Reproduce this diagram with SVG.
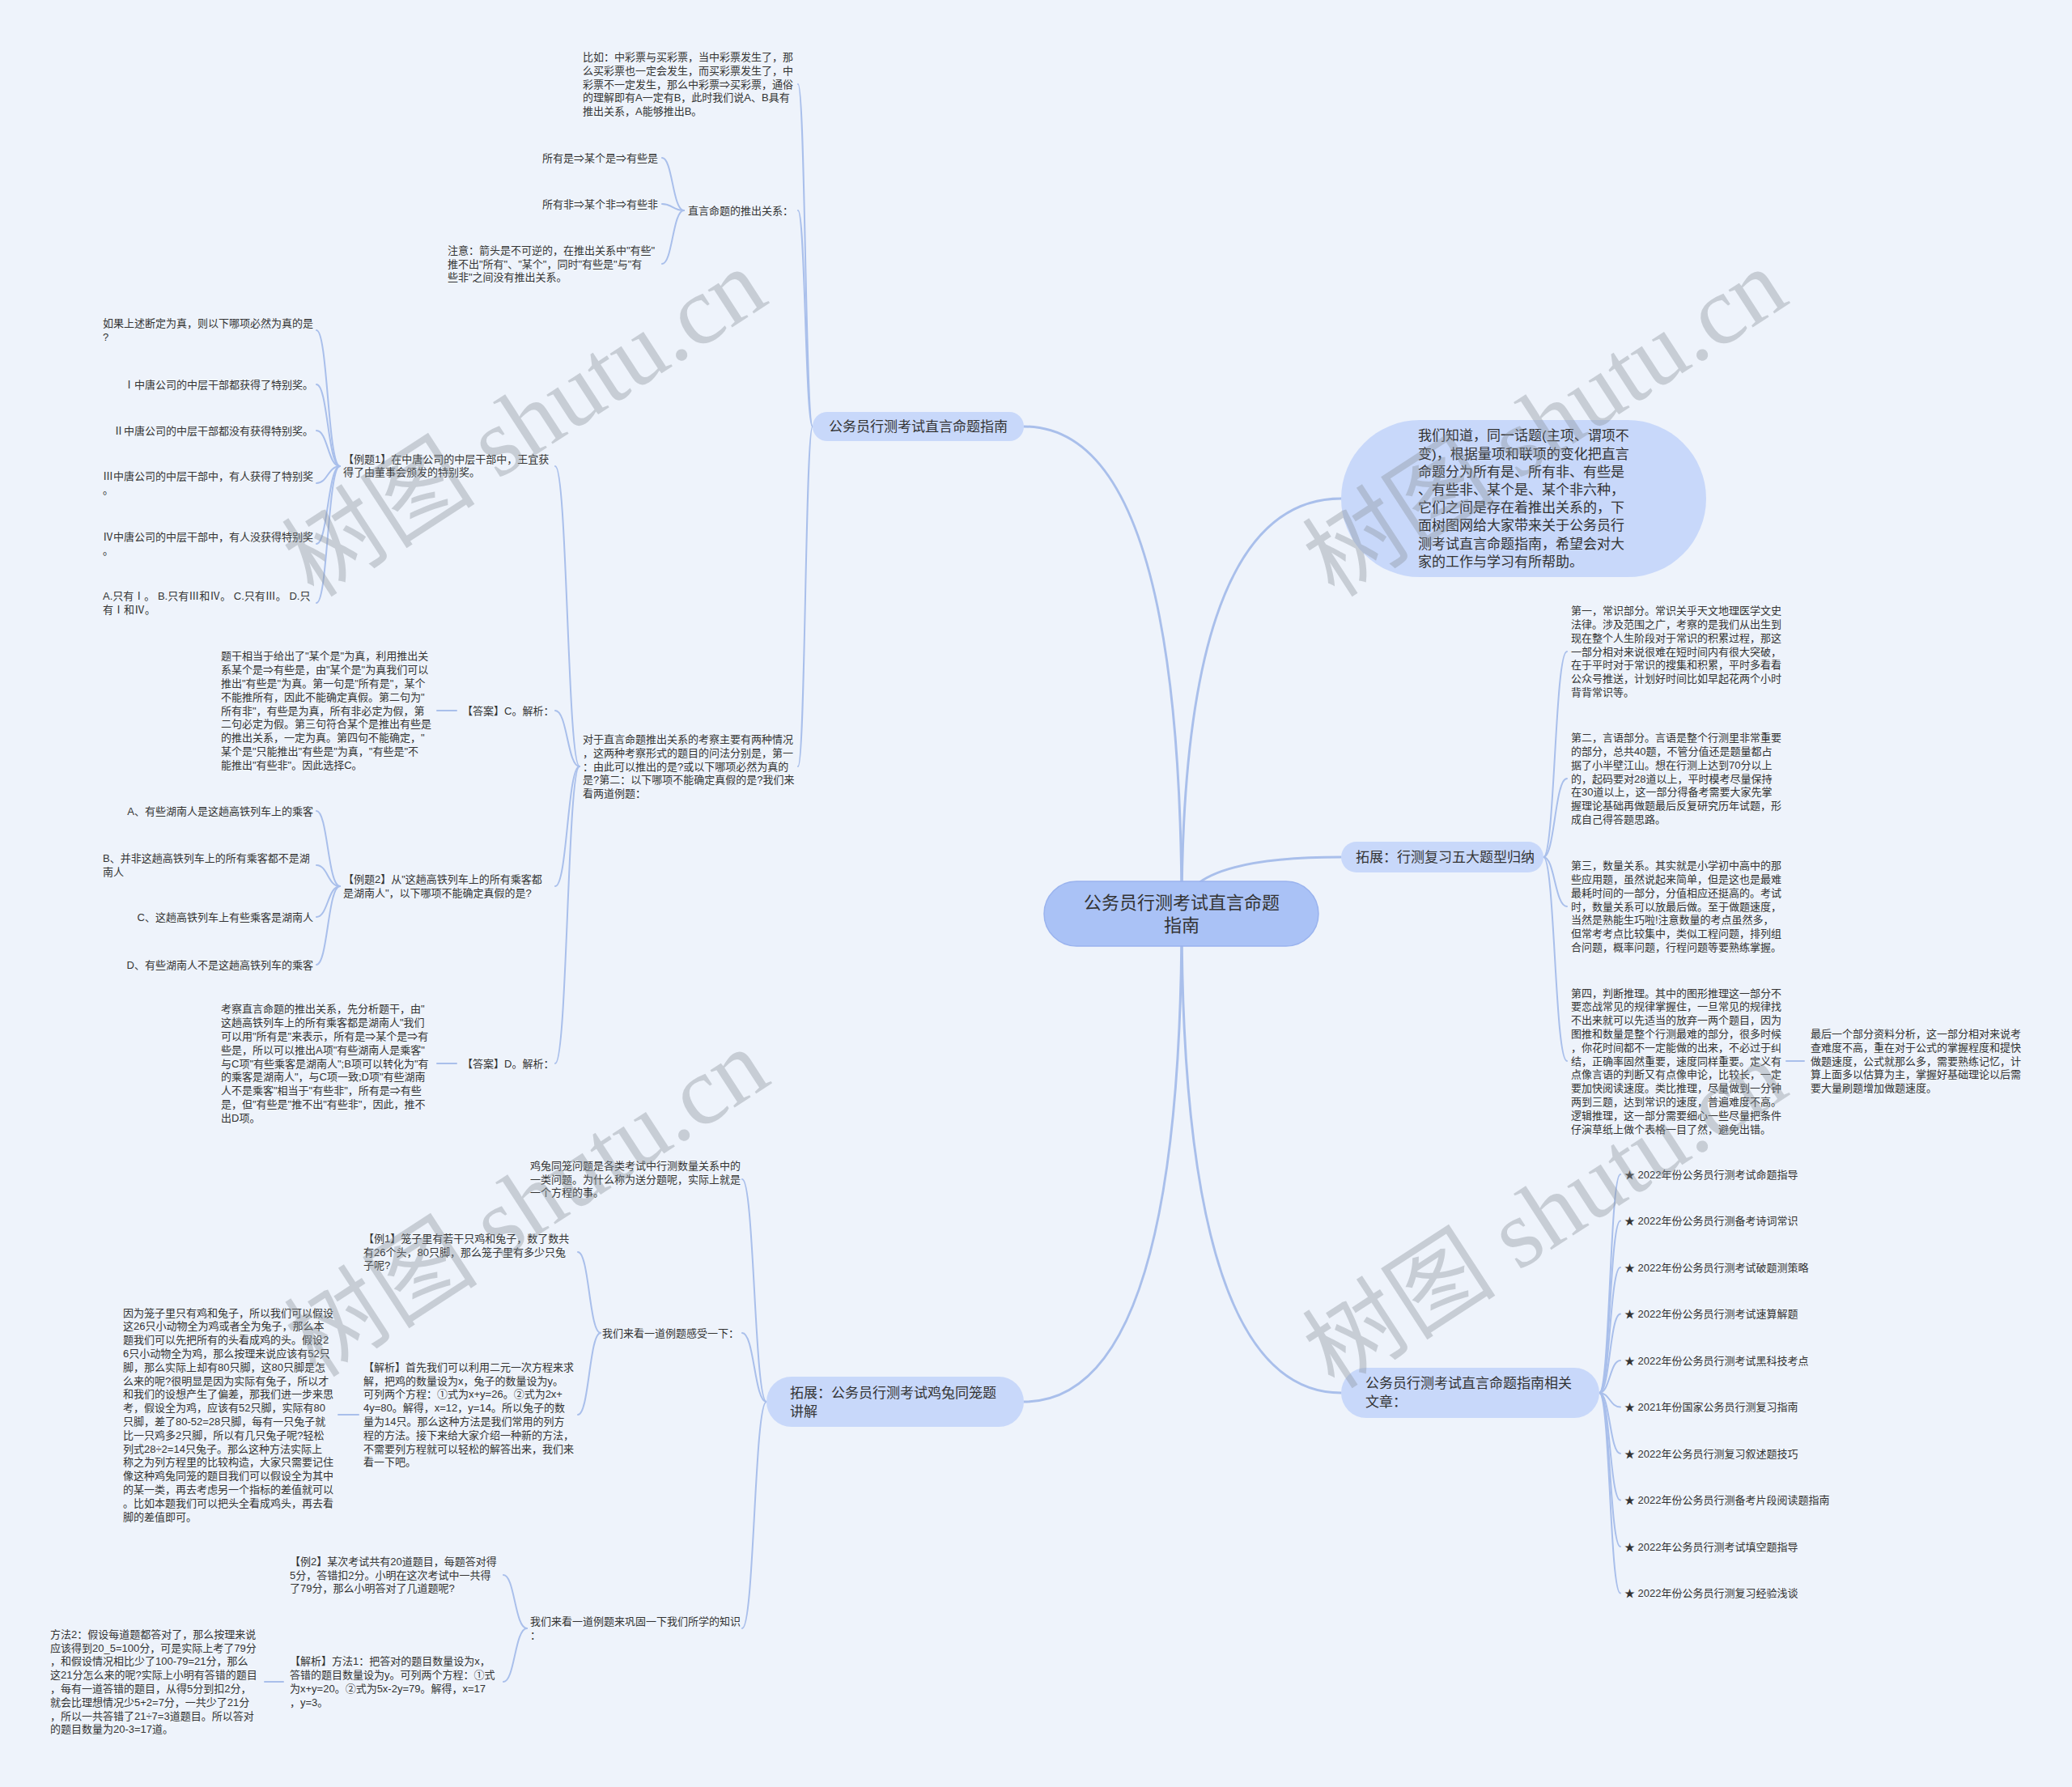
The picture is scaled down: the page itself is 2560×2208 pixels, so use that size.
<svg xmlns="http://www.w3.org/2000/svg" width="2560" height="2208" viewBox="0 0 2560 2208">
<style>
.t{font-family:"Liberation Sans","Noto Sans CJK SC",sans-serif;font-size:13px;fill:#333}
.m{font-size:17px}
.r{font-size:22px;text-anchor:middle}
.e{text-anchor:end}
.c{fill:none;stroke:#a9bfeb;stroke-width:2;stroke-linecap:round}
.c0{stroke-width:3}
.pill{fill:#c8d8fa}
.root{fill:#aac2f6;stroke:#9ab3ee;stroke-width:1.5}
.wm{font-family:"Liberation Serif","Noto Sans CJK SC",serif;font-size:120px;fill:#8a9099;fill-opacity:0.38}
</style>
<rect width="2560" height="2208" fill="#eef3fb"/>

<g id="connectors">
<path class="c c0" d="M1460 1129 Q1460 527 1265 527"/>
<path class="c c0" d="M1460 1129 Q1460 616 1657 616"/>
<path class="c c0" d="M1460 1129 Q1460 1059 1657 1059"/>
<path class="c c0" d="M1460 1129 Q1460 1721 1657 1721"/>
<path class="c c0" d="M1460 1129 Q1460 1732 1265 1732"/>
<path class="c" d="M1004 527 C995 527 995 104 986 104"/>
<path class="c" d="M1004 527 C995 527 995 260 986 260"/>
<path class="c" d="M1004 527 C995 527 995 947 986 947"/>
<path class="c" d="M845 260 C831 260 831 195 818 195"/>
<path class="c" d="M845 260 C831 260 831 252 818 252"/>
<path class="c" d="M845 260 C831 260 831 326 818 326"/>
<path class="c" d="M716 947 C701 947 701 576 686 576"/>
<path class="c" d="M716 947 C701 947 701 878 686 878"/>
<path class="c" d="M716 947 C701 947 701 1095 686 1095"/>
<path class="c" d="M716 947 C701 947 701 1314 686 1314"/>
<path class="c" d="M420 576 C405 576 405 408 391 408"/>
<path class="c" d="M420 576 C405 576 405 475 391 475"/>
<path class="c" d="M420 576 C405 576 405 532 391 532"/>
<path class="c" d="M420 576 C405 576 405 597 391 597"/>
<path class="c" d="M420 576 C405 576 405 672 391 672"/>
<path class="c" d="M420 576 C405 576 405 745 391 745"/>
<path class="c" d="M420 1095 C405 1095 405 1002 391 1002"/>
<path class="c" d="M420 1095 C405 1095 405 1069 391 1069"/>
<path class="c" d="M420 1095 C405 1095 405 1133 391 1133"/>
<path class="c" d="M420 1095 C405 1095 405 1192 391 1192"/>
<path class="c" d="M540 878 L564 878"/>
<path class="c" d="M540 1314 L564 1314"/>
<path class="c" d="M947 1732 C932 1732 932 1457 917 1457"/>
<path class="c" d="M947 1732 C932 1732 932 1647 917 1647"/>
<path class="c" d="M947 1732 C932 1732 932 2012 917 2012"/>
<path class="c" d="M742 1647 C728 1647 728 1547 714 1547"/>
<path class="c" d="M742 1647 C728 1647 728 1748 714 1748"/>
<path class="c" d="M651 2012 C636 2012 636 1946 622 1946"/>
<path class="c" d="M651 2012 C636 2012 636 2078 622 2078"/>
<path class="c" d="M418 1748 L443 1748"/>
<path class="c" d="M327 2078 L350 2078"/>
<path class="c" d="M1907 1059 C1921 1059 1921 805 1936 805"/>
<path class="c" d="M1907 1059 C1921 1059 1921 962 1936 962"/>
<path class="c" d="M1907 1059 C1921 1059 1921 1120 1936 1120"/>
<path class="c" d="M1907 1059 C1921 1059 1921 1311 1936 1311"/>
<path class="c" d="M2207 1311 L2229 1311"/>
<path class="c" d="M1976 1721 C1989 1721 1989 1451 2002 1451"/>
<path class="c" d="M1976 1721 C1989 1721 1989 1508.5 2002 1508.5"/>
<path class="c" d="M1976 1721 C1989 1721 1989 1566 2002 1566"/>
<path class="c" d="M1976 1721 C1989 1721 1989 1623.5 2002 1623.5"/>
<path class="c" d="M1976 1721 C1989 1721 1989 1681 2002 1681"/>
<path class="c" d="M1976 1721 C1989 1721 1989 1738.5 2002 1738.5"/>
<path class="c" d="M1976 1721 C1989 1721 1989 1796 2002 1796"/>
<path class="c" d="M1976 1721 C1989 1721 1989 1853.5 2002 1853.5"/>
<path class="c" d="M1976 1721 C1989 1721 1989 1911 2002 1911"/>
<path class="c" d="M1976 1721 C1989 1721 1989 1968.5 2002 1968.5"/>
</g>

<g id="root">
<rect class="root" x="1290" y="1089" width="339" height="80" rx="40"/>
<text class="t r" x="1460" y="1123">公务员行测考试直言命题</text>
<text class="t r" x="1460" y="1151">指南</text>
</g>

<g id="n-l1a">
<rect class="pill" x="1004" y="509" width="261" height="36" rx="18"/>
<text class="t m" x="1024" y="533">公务员行测考试直言命题指南</text>
</g>
<g id="n-biru">
<text class="t"><tspan x="720" y="75">比如：中彩票与买彩票，当中彩票发生了，那</tspan><tspan x="720" y="92">么买彩票也一定会发生，而买彩票发生了，中</tspan><tspan x="720" y="109">彩票不一定发生，那么中彩票⇒买彩票，通俗</tspan><tspan x="720" y="125">的理解即有A一定有B，此时我们说A、B具有</tspan><tspan x="720" y="142">推出关系，A能够推出B。</tspan></text>
</g>
<g id="n-tuichu"><text class="t e" x="980" y="264.5">直言命题的推出关系：</text></g>
<g id="n-suoyoushi"><text class="t e" x="813" y="199.5">所有是⇒某个是⇒有些是</text></g>
<g id="n-suoyoufei"><text class="t e" x="813" y="256.5">所有非⇒某个非⇒有些非</text></g>
<g id="n-zhuyi">
<text class="t"><tspan x="553" y="314">注意：箭头是不可逆的，在推出关系中"有些"</tspan><tspan x="553" y="330.5">推不出"所有"、"某个"，同时"有些是"与"有</tspan><tspan x="553" y="347">些非"之间没有推出关系。</tspan></text>
</g>
<g id="n-duiyu">
<text class="t"><tspan x="720" y="918">对于直言命题推出关系的考察主要有两种情况</tspan><tspan x="720" y="934.7">，这两种考察形式的题目的问法分别是，第一</tspan><tspan x="720" y="951.5">：由此可以推出的是?或以下哪项必然为真的</tspan><tspan x="720" y="968.3">是?第二：以下哪项不能确定真假的是?我们来</tspan><tspan x="720" y="985">看两道例题：</tspan></text>
</g>
<g id="n-li1">
<text class="t"><tspan x="424" y="571.6">【例题1】在中唐公司的中层干部中，王宜获</tspan><tspan x="424" y="588.4">得了由董事会颁发的特别奖。</tspan></text>
</g>
<g id="n-l1-q"><text class="t"><tspan x="127" y="404.1">如果上述断定为真，则以下哪项必然为真的是</tspan><tspan x="127" y="420.9">?</tspan></text></g>
<g id="n-l1-1"><text class="t e" x="387" y="479.5">Ⅰ中唐公司的中层干部都获得了特别奖。</text></g>
<g id="n-l1-2"><text class="t e" x="387" y="536.5">Ⅱ中唐公司的中层干部都没有获得特别奖。</text></g>
<g id="n-l1-3"><text class="t"><tspan x="127" y="593.1">Ⅲ中唐公司的中层干部中，有人获得了特别奖</tspan><tspan x="127" y="609.9">。</tspan></text></g>
<g id="n-l1-4"><text class="t"><tspan x="127" y="668.1">Ⅳ中唐公司的中层干部中，有人没获得特别奖</tspan><tspan x="127" y="684.9">。</tspan></text></g>
<g id="n-l1-opt"><text class="t"><tspan x="127" y="741.1">A.只有Ⅰ。 B.只有Ⅲ和Ⅳ。 C.只有Ⅲ。 D.只</tspan><tspan x="127" y="757.9">有Ⅰ和Ⅳ。</tspan></text></g>
<g id="n-ansc"><text class="t" x="571" y="882.5">【答案】C。解析：</text></g>
<g id="n-tigan">
<text class="t"><tspan x="273" y="815.3">题干相当于给出了"某个是"为真，利用推出关</tspan><tspan x="273" y="832.1">系某个是⇒有些是，由"某个是"为真我们可以</tspan><tspan x="273" y="848.9">推出"有些是"为真。第一句是"所有是"，某个</tspan><tspan x="273" y="865.7">不能推所有，因此不能确定真假。第二句为"</tspan><tspan x="273" y="882.5">所有非"，有些是为真，所有非必定为假，第</tspan><tspan x="273" y="899.3">二句必定为假。第三句符合某个是推出有些是</tspan><tspan x="273" y="916.1">的推出关系，一定为真。第四句不能确定，"</tspan><tspan x="273" y="932.9">某个是"只能推出"有些是"为真，"有些是"不</tspan><tspan x="273" y="949.7">能推出"有些非"。因此选择C。</tspan></text>
</g>
<g id="n-li2">
<text class="t"><tspan x="424" y="1091.1">【例题2】从"这趟高铁列车上的所有乘客都</tspan><tspan x="424" y="1107.9">是湖南人"，以下哪项不能确定真假的是?</tspan></text>
</g>
<g id="n-l2-a"><text class="t e" x="387" y="1006.5">A、有些湖南人是这趟高铁列车上的乘客</text></g>
<g id="n-l2-b"><text class="t"><tspan x="127" y="1065.1">B、并非这趟高铁列车上的所有乘客都不是湖</tspan><tspan x="127" y="1081.9">南人</tspan></text></g>
<g id="n-l2-c"><text class="t e" x="387" y="1137.5">C、这趟高铁列车上有些乘客是湖南人</text></g>
<g id="n-l2-d"><text class="t e" x="387" y="1196.5">D、有些湖南人不是这趟高铁列车的乘客</text></g>
<g id="n-ansd"><text class="t" x="571" y="1318.5">【答案】D。解析：</text></g>
<g id="n-kaocha">
<text class="t"><tspan x="273" y="1251.3">考察直言命题的推出关系，先分析题干，由"</tspan><tspan x="273" y="1268.1">这趟高铁列车上的所有乘客都是湖南人"我们</tspan><tspan x="273" y="1284.9">可以用"所有是"来表示，所有是⇒某个是⇒有</tspan><tspan x="273" y="1301.7">些是，所以可以推出A项"有些湖南人是乘客"</tspan><tspan x="273" y="1318.5">与C项"有些乘客是湖南人";B项可以转化为"有</tspan><tspan x="273" y="1335.3">的乘客是湖南人"，与C项一致;D项"有些湖南</tspan><tspan x="273" y="1352.1">人不是乘客"相当于"有些非"，所有是⇒有些</tspan><tspan x="273" y="1368.9">是，但"有些是"推不出"有些非"，因此，推不</tspan><tspan x="273" y="1385.7">出D项。</tspan></text>
</g>

<g id="n-l1c">
<rect class="pill" x="947" y="1701" width="318" height="62" rx="31"/>
<text class="t m"><tspan x="976" y="1726.5">拓展：公务员行测考试鸡兔同笼题</tspan><tspan x="976" y="1749.5">讲解</tspan></text>
</g>
<g id="n-jitu"><text class="t"><tspan x="655" y="1444.7">鸡兔同笼问题是各类考试中行测数量关系中的</tspan><tspan x="655" y="1461.5">一类问题。为什么称为送分题呢，实际上就是</tspan><tspan x="655" y="1478.3">一个方程的事。</tspan></text></g>
<g id="n-ganshou"><text class="t e" x="913" y="1651.5">我们来看一道例题感受一下：</text></g>
<g id="n-li1b"><text class="t"><tspan x="449" y="1534.7">【例1】笼子里有若干只鸡和兔子，数了数共</tspan><tspan x="449" y="1551.5">有26个头，80只脚，那么笼子里有多少只兔</tspan><tspan x="449" y="1568.3">子呢?</tspan></text></g>
<g id="n-jiexi1"><text class="t"><tspan x="449" y="1693.7">【解析】首先我们可以利用二元一次方程来求</tspan><tspan x="449" y="1710.5">解，把鸡的数量设为x，兔子的数量设为y。</tspan><tspan x="449" y="1727.3">可列两个方程：①式为x+y=26。②式为2x+</tspan><tspan x="449" y="1744.1">4y=80。解得，x=12，y=14。所以兔子的数</tspan><tspan x="449" y="1760.9">量为14只。那么这种方法是我们常用的列方</tspan><tspan x="449" y="1777.7">程的方法。接下来给大家介绍一种新的方法，</tspan><tspan x="449" y="1794.5">不需要列方程就可以轻松的解答出来，我们来</tspan><tspan x="449" y="1811.3">看一下吧。</tspan></text></g>
<g id="n-yinwei"><text class="t"><tspan x="152" y="1626.5">因为笼子里只有鸡和兔子，所以我们可以假设</tspan><tspan x="152" y="1643.3">这26只小动物全为鸡或者全为兔子，那么本</tspan><tspan x="152" y="1660.1">题我们可以先把所有的头看成鸡的头。假设2</tspan><tspan x="152" y="1676.9">6只小动物全为鸡，那么按理来说应该有52只</tspan><tspan x="152" y="1693.7">脚，那么实际上却有80只脚，这80只脚是怎</tspan><tspan x="152" y="1710.5">么来的呢?很明显是因为实际有兔子，所以才</tspan><tspan x="152" y="1727.3">和我们的设想产生了偏差，那我们进一步来思</tspan><tspan x="152" y="1744.1">考，假设全为鸡，应该有52只脚，实际有80</tspan><tspan x="152" y="1760.9">只脚，差了80-52=28只脚，每有一只兔子就</tspan><tspan x="152" y="1777.7">比一只鸡多2只脚，所以有几只兔子呢?轻松</tspan><tspan x="152" y="1794.5">列式28÷2=14只兔子。那么这种方法实际上</tspan><tspan x="152" y="1811.3">称之为列方程里的比较构造，大家只需要记住</tspan><tspan x="152" y="1828.1">像这种鸡兔同笼的题目我们可以假设全为其中</tspan><tspan x="152" y="1844.9">的某一类，再去考虑另一个指标的差值就可以</tspan><tspan x="152" y="1861.7">。比如本题我们可以把头全看成鸡头，再去看</tspan><tspan x="152" y="1878.5">脚的差值即可。</tspan></text></g>
<g id="n-gonggu"><text class="t"><tspan x="655" y="2008.1">我们来看一道例题来巩固一下我们所学的知识</tspan><tspan x="655" y="2024.9">：</tspan></text></g>
<g id="n-li2b"><text class="t"><tspan x="358" y="1933.7">【例2】某次考试共有20道题目，每题答对得</tspan><tspan x="358" y="1950.5">5分，答错扣2分。小明在这次考试中一共得</tspan><tspan x="358" y="1967.3">了79分，那么小明答对了几道题呢?</tspan></text></g>
<g id="n-fangfa1"><text class="t"><tspan x="358" y="2057.3">【解析】方法1：把答对的题目数量设为x，</tspan><tspan x="358" y="2074.1">答错的题目数量设为y。可列两个方程：①式</tspan><tspan x="358" y="2090.9">为x+y=20。②式为5x-2y=79。解得，x=17</tspan><tspan x="358" y="2107.7">，y=3。</tspan></text></g>
<g id="n-fangfa2"><text class="t"><tspan x="62" y="2023.7">方法2：假设每道题都答对了，那么按理来说</tspan><tspan x="62" y="2040.5">应该得到20_5=100分，可是实际上考了79分</tspan><tspan x="62" y="2057.3">，和假设情况相比少了100-79=21分，那么</tspan><tspan x="62" y="2074.1">这21分怎么来的呢?实际上小明有答错的题目</tspan><tspan x="62" y="2090.9">，每有一道答错的题目，从得5分到扣2分，</tspan><tspan x="62" y="2107.7">就会比理想情况少5+2=7分，一共少了21分</tspan><tspan x="62" y="2124.5">，所以一共答错了21÷7=3道题目。所以答对</tspan><tspan x="62" y="2141.3">的题目数量为20-3=17道。</tspan></text></g>

<g id="n-intro">
<rect class="pill" x="1657" y="519" width="451" height="194" rx="97"/>
<text class="t m"><tspan x="1752" y="544.3">我们知道，同一话题(主项、谓项不</tspan><tspan x="1752" y="566.5">变)，根据量项和联项的变化把直言</tspan><tspan x="1752" y="588.7">命题分为所有是、所有非、有些是</tspan><tspan x="1752" y="610.9">、有些非、某个是、某个非六种，</tspan><tspan x="1752" y="633.1">它们之间是存在着推出关系的，下</tspan><tspan x="1752" y="655.3">面树图网给大家带来关于公务员行</tspan><tspan x="1752" y="677.5">测考试直言命题指南，希望会对大</tspan><tspan x="1752" y="699.7">家的工作与学习有所帮助。</tspan></text>
</g>

<g id="n-tuozhan">
<rect class="pill" x="1657" y="1040" width="250" height="38" rx="19"/>
<text class="t m" x="1675" y="1065">拓展：行测复习五大题型归纳</text>
</g>
<g id="n-d1"><text class="t"><tspan x="1941" y="759.1">第一，常识部分。常识关乎天文地理医学文史</tspan><tspan x="1941" y="775.9">法律。涉及范围之广，考察的是我们从出生到</tspan><tspan x="1941" y="792.7">现在整个人生阶段对于常识的积累过程，那这</tspan><tspan x="1941" y="809.5">一部分相对来说很难在短时间内有很大突破，</tspan><tspan x="1941" y="826.3">在于平时对于常识的搜集和积累，平时多看看</tspan><tspan x="1941" y="843.1">公众号推送，计划好时间比如早起花两个小时</tspan><tspan x="1941" y="859.9">背背常识等。</tspan></text></g>
<g id="n-d2"><text class="t"><tspan x="1941" y="916.1">第二，言语部分。言语是整个行测里非常重要</tspan><tspan x="1941" y="932.9">的部分，总共40题，不管分值还是题量都占</tspan><tspan x="1941" y="949.7">据了小半壁江山。想在行测上达到70分以上</tspan><tspan x="1941" y="966.5">的，起码要对28道以上，平时模考尽量保持</tspan><tspan x="1941" y="983.3">在30道以上，这一部分得备考需要大家先掌</tspan><tspan x="1941" y="1000.1">握理论基础再做题最后反复研究历年试题，形</tspan><tspan x="1941" y="1016.9">成自己得答题思路。</tspan></text></g>
<g id="n-d3"><text class="t"><tspan x="1941" y="1074.1">第三，数量关系。其实就是小学初中高中的那</tspan><tspan x="1941" y="1090.9">些应用题，虽然说起来简单，但是这也是最难</tspan><tspan x="1941" y="1107.7">最耗时间的一部分，分值相应还挺高的。考试</tspan><tspan x="1941" y="1124.5">时，数量关系可以放最后做。至于做题速度，</tspan><tspan x="1941" y="1141.3">当然是熟能生巧啦!注意数量的考点虽然多，</tspan><tspan x="1941" y="1158.1">但常考考点比较集中，类似工程问题，排列组</tspan><tspan x="1941" y="1174.9">合问题，概率问题，行程问题等要熟练掌握。</tspan></text></g>
<g id="n-d4"><text class="t"><tspan x="1941" y="1231.5">第四，判断推理。其中的图形推理这一部分不</tspan><tspan x="1941" y="1248.3">要恋战常见的规律掌握住，一旦常见的规律找</tspan><tspan x="1941" y="1265.1">不出来就可以先适当的放弃一两个题目，因为</tspan><tspan x="1941" y="1281.9">图推和数量是整个行测最难的部分，很多时候</tspan><tspan x="1941" y="1298.7">，你花时间都不一定能做的出来，不必过于纠</tspan><tspan x="1941" y="1315.5">结，正确率固然重要，速度同样重要。定义有</tspan><tspan x="1941" y="1332.3">点像言语的判断又有点像申论，比较长，一定</tspan><tspan x="1941" y="1349.1">要加快阅读速度。类比推理，尽量做到一分钟</tspan><tspan x="1941" y="1365.9">两到三题，达到常识的速度，普遍难度不高。</tspan><tspan x="1941" y="1382.7">逻辑推理，这一部分需要细心一些尽量把条件</tspan><tspan x="1941" y="1399.5">仔演草纸上做个表格一目了然，避免出错。</tspan></text></g>
<g id="n-d5"><text class="t"><tspan x="2237" y="1281.9">最后一个部分资料分析，这一部分相对来说考</tspan><tspan x="2237" y="1298.7">查难度不高，重在对于公式的掌握程度和提快</tspan><tspan x="2237" y="1315.5">做题速度，公式就那么多，需要熟练记忆，计</tspan><tspan x="2237" y="1332.3">算上面多以估算为主，掌握好基础理论以后需</tspan><tspan x="2237" y="1349.1">要大量刷题增加做题速度。</tspan></text></g>

<g id="n-xiangguan">
<rect class="pill" x="1657" y="1690" width="319" height="62" rx="31"/>
<text class="t m"><tspan x="1687" y="1715">公务员行测考试直言命题指南相关</tspan><tspan x="1687" y="1738">文章：</tspan></text>
</g>
<g id="n-a1"><text class="t" x="2007" y="1455.5">★ 2022年份公务员行测考试命题指导</text></g>
<g id="n-a2"><text class="t" x="2007" y="1513">★ 2022年份公务员行测备考诗词常识</text></g>
<g id="n-a3"><text class="t" x="2007" y="1570.5">★ 2022年份公务员行测考试破题测策略</text></g>
<g id="n-a4"><text class="t" x="2007" y="1628">★ 2022年份公务员行测考试速算解题</text></g>
<g id="n-a5"><text class="t" x="2007" y="1685.5">★ 2022年份公务员行测考试黑科技考点</text></g>
<g id="n-a6"><text class="t" x="2007" y="1743">★ 2021年份国家公务员行测复习指南</text></g>
<g id="n-a7"><text class="t" x="2007" y="1800.5">★ 2022年公务员行测复习叙述题技巧</text></g>
<g id="n-a8"><text class="t" x="2007" y="1858">★ 2022年份公务员行测备考片段阅读题指南</text></g>
<g id="n-a9"><text class="t" x="2007" y="1915.5">★ 2022年公务员行测考试填空题指导</text></g>
<g id="n-a10"><text class="t" x="2007" y="1973">★ 2022年份公务员行测复习经验浅谈</text></g>

<g id="watermarks">
<text class="wm" x="388" y="740" transform="rotate(-33 388 740)">树图 shutu.cn</text>
<text class="wm" x="1649" y="740" transform="rotate(-33 1649 740)">树图 shutu.cn</text>
<text class="wm" x="391" y="1704" transform="rotate(-33 391 1704)">树图 shutu.cn</text>
<text class="wm" x="1649" y="1718" transform="rotate(-33 1649 1718)">树图 shutu.cn</text>
</g>
</svg>
